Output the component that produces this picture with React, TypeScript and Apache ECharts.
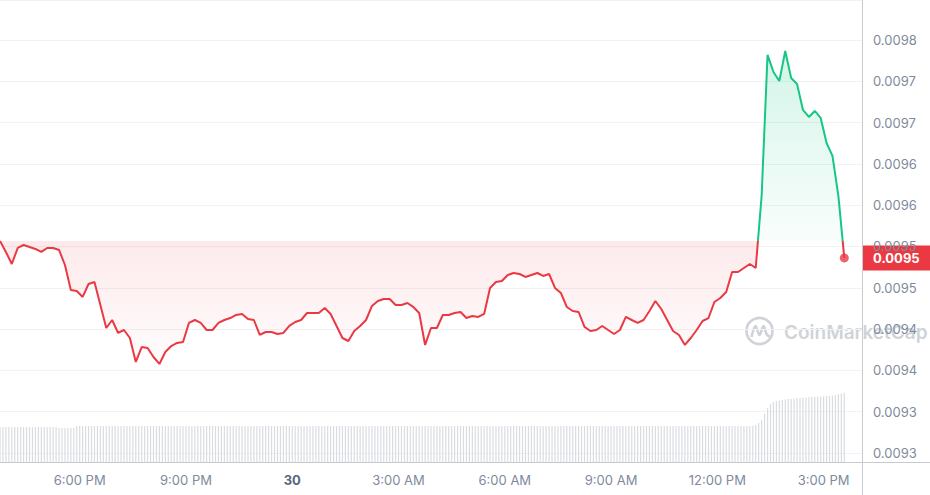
import React, { useEffect, useRef } from "react";
import * as echarts from "echarts";

// Time is expressed in minutes after midnight of the 29th.
const baseDayOfMonth = 29;
const priceStartMinute = 945;
const priceStepMinutes = 10;
const volumeStartMinute = 945;
const volumeStepMinutes = 5;
const axisMinMinute = 945;
const axisMaxMinute = 2405;
const timeTickMinutes = 180;

const priceAxisMin = 0.0092891;
const priceAxisMax = 0.0098484;
const priceTickStep = 0.00005;
const volumeAxisMax = 462;

const priceValues = [
  0.0095567, 0.0095434, 0.0095288, 0.0095482, 0.0095518, 0.0095494, 0.009547, 0.0095434, 0.0095482, 0.0095482,
  0.0095458, 0.0095276, 0.0094973, 0.0094961, 0.0094889, 0.0095046, 0.009507, 0.0094792, 0.0094513, 0.009461,
  0.0094453, 0.0094489, 0.0094392, 0.0094102, 0.0094283, 0.0094271, 0.0094162, 0.0094078, 0.0094223, 0.0094295,
  0.0094332, 0.0094344, 0.0094574, 0.009461, 0.0094574, 0.0094489, 0.0094489, 0.0094574, 0.009461, 0.0094634,
  0.0094671, 0.0094683, 0.0094622, 0.009461, 0.0094429, 0.0094465, 0.0094465, 0.0094441, 0.0094453, 0.0094538,
  0.0094586, 0.009461, 0.0094695, 0.0094695, 0.0094695, 0.0094756, 0.0094683, 0.0094538, 0.0094392, 0.0094356,
  0.0094477, 0.0094538, 0.009461, 0.009478, 0.009484, 0.0094865, 0.0094865, 0.0094792, 0.0094792, 0.0094816,
  0.0094768, 0.0094695, 0.0094308, 0.0094513, 0.0094513, 0.0094671, 0.0094671, 0.0094695, 0.0094707, 0.0094634,
  0.0094659, 0.0094647, 0.0094683, 0.0094998, 0.009507, 0.0095082, 0.0095155, 0.0095179, 0.0095167, 0.0095131,
  0.0095155, 0.0095179, 0.0095143, 0.0095167, 0.0094998, 0.0094937, 0.0094768, 0.0094719, 0.0094707, 0.0094526,
  0.0094477, 0.0094489, 0.0094538, 0.0094489, 0.0094441, 0.0094489, 0.0094647, 0.009461, 0.0094574, 0.009461,
  0.0094719, 0.009484, 0.0094743, 0.009461, 0.0094477, 0.0094429, 0.0094308, 0.0094392, 0.0094489, 0.0094598,
  0.0094634, 0.0094828, 0.0094877, 0.0094949, 0.0095191, 0.0095191, 0.009524, 0.0095288, 0.009524, 0.0096112,
  0.0097819, 0.0097613, 0.0097504, 0.0097867, 0.009754, 0.0097468, 0.0097153, 0.0097068, 0.0097141, 0.0097056,
  0.0096753, 0.0096596, 0.0096112, 0.0095361,
];

const volumeValues = [
  35, 35, 35, 35, 35, 35, 35, 35, 35, 35,
  35, 35, 35, 35, 35, 35, 35, 35, 35, 35,
  34, 34, 34, 34, 34, 34, 36, 36, 36, 36,
  36, 36, 36, 36, 36, 36, 36, 36, 36, 36,
  36, 36, 36, 36, 36, 36, 36, 36, 36, 36,
  36, 36, 36, 36, 36, 36, 36, 36, 36, 36,
  36, 36, 36, 36, 36, 36, 36, 36, 36, 36,
  36, 36, 36, 36, 36, 36, 36, 36, 36, 36,
  36, 36, 36, 36, 36, 36, 36, 36, 36, 36,
  36, 36, 36, 36, 36, 36, 36, 36, 36, 36,
  36, 36, 36, 36, 36, 36, 36, 36, 36, 36,
  36, 36, 36, 36, 36, 36, 36, 36, 36, 36,
  36, 36, 36, 36, 36, 36, 36, 36, 36, 36,
  36, 36, 36, 36, 36, 36, 36, 36, 36, 36,
  36, 36, 36, 36, 36, 36, 36, 36, 36, 36,
  36, 36, 36, 36, 36, 36, 36, 36, 36, 36,
  36, 36, 36, 36, 36, 36, 36, 36, 36, 36,
  36, 36, 36, 36, 36, 36, 36, 36, 36, 36,
  36, 36, 36, 36, 36, 36, 36, 36, 36, 36,
  36, 36, 36, 36, 36, 36, 36, 36, 36, 36,
  36, 36, 36, 36, 36, 36, 36, 36, 36, 36,
  36, 36, 36, 36, 36, 36, 36, 36, 36, 36,
  36, 36, 36, 36, 36, 36, 36, 36, 36, 36,
  36, 36, 36, 36, 36, 36, 36, 36, 36, 36,
  36, 36, 36, 36, 36, 36, 36, 36, 36, 36,
  36, 36, 36, 36, 36, 36, 37, 39, 42, 48,
  54, 58, 60, 61, 61.5, 62, 62.5, 63, 63, 63.5,
  64, 64, 64.5, 64.5, 65, 65, 65, 65.5, 65.5, 65.5,
  66, 66, 66.5, 67, 68, 68.5, 69,
];

const RED = "#ea3943";
const GREEN = "#16c784";
const AXIS_LINE = "#c7cbd1";
const LABEL = "#808a9d";
const WATERMARK = "#cfd3d8";

function timeLabel(v: number): string {
  const minutes = Math.round(v);
  const day = Math.floor(minutes / 1440);
  const m = minutes - day * 1440;
  if (m === 0) return "{d|" + (baseDayOfMonth + day) + "}";
  const h = Math.floor(m / 60);
  const mm = m % 60;
  const h12 = h % 12 === 0 ? 12 : h % 12;
  return h12 + ":" + String(mm).padStart(2, "0") + " " + (h >= 12 ? "PM" : "AM");
}

function priceLabel(v: number): string {
  return (Math.floor(v * 10000 + 1e-6) / 10000).toFixed(4);
}

export default function App() {
  const ref = useRef<HTMLDivElement>(null);

  useEffect(() => {
    const el = ref.current;
    if (!el) return;
    const chart = echarts.init(el, null, { renderer: "svg" });

    const gridTop = 0;
    const gridBottom = 33;
    const gridRight = 68;
    const plotHeight = el.clientHeight - gridTop - gridBottom;
    const axisX = el.clientWidth - gridRight + 0.5;
    const axisY = gridTop + plotHeight + 0.5;

    const basePrice = priceValues[0];
    const priceData = priceValues.map((v, i) => [priceStartMinute + i * priceStepMinutes, v]);
    const volumeData = volumeValues.map((v, i) => [volumeStartMinute + i * volumeStepMinutes, v]);
    const last = priceData[priceData.length - 1];
    const baseOffset = (priceAxisMax - basePrice) / (priceAxisMax - priceAxisMin);

    const areaColor = new echarts.graphic.LinearGradient(
      0,
      gridTop,
      0,
      gridTop + plotHeight,
      [
        { offset: 0, color: "rgba(22,199,132,0.32)" },
        { offset: baseOffset, color: "rgba(22,199,132,0.04)" },
        { offset: baseOffset, color: "rgba(234,57,67,0.15)" },
        { offset: Math.min(1, baseOffset + 0.27), color: "rgba(234,57,67,0.02)" },
        { offset: 1, color: "rgba(234,57,67,0)" },
      ],
      true
    );

    const staticGraphics: any[] = [
      {
        type: "line",
        silent: true,
        shape: { x1: axisX, y1: axisY, x2: el.clientWidth, y2: axisY },
        style: { stroke: AXIS_LINE, lineWidth: 1 },
      },
      {
        type: "line",
        silent: true,
        shape: { x1: axisX, y1: axisY, x2: axisX, y2: el.clientHeight },
        style: { stroke: AXIS_LINE, lineWidth: 1 },
      },
      {
        type: "group",
        silent: true,
        x: 745,
        y: 316,
        z: 0,
        children: [
          {
            type: "circle",
            shape: { cx: 14.5, cy: 15, r: 13 },
            style: { fill: "none", stroke: WATERMARK, lineWidth: 2.6 },
          },
          {
            type: "polyline",
            shape: {
              points: [
                [6.5, 21],
                [10.5, 10],
                [14.5, 19],
                [18.5, 10],
                [21.5, 18],
                [25, 21],
              ],
              smooth: 0.35,
            },
            style: { fill: "none", stroke: WATERMARK, lineWidth: 2.6 },
          },
          {
            type: "text",
            x: 39,
            y: 16,
            style: {
              text: "CoinMarketCap",
              fill: WATERMARK,
              font: "600 19px Inter, 'Noto Sans', sans-serif",
              verticalAlign: "middle",
            },
          },
        ],
      },
    ];

    chart.setOption({
      animation: false,
      textStyle: { fontFamily: "Inter, 'Noto Sans', sans-serif" },
      grid: {
        left: 0,
        right: gridRight,
        top: gridTop,
        bottom: gridBottom,
        containLabel: false,
        outerBoundsMode: "none",
      },
      xAxis: {
        type: "value",
        min: axisMinMinute,
        max: axisMaxMinute,
        minInterval: timeTickMinutes,
        maxInterval: timeTickMinutes,
        axisLine: { show: true, lineStyle: { color: AXIS_LINE, width: 1 } },
        axisTick: { show: false },
        splitLine: { show: false },
        axisLabel: {
          showMinLabel: false,
          showMaxLabel: false,
          margin: 11,
          color: LABEL,
          fontSize: 13,
          formatter: timeLabel,
          rich: { d: { fontWeight: "bold", color: "#58667e", fontSize: 13 } },
        },
      },
      yAxis: [
        {
          type: "value",
          position: "right",
          min: priceAxisMin,
          max: priceAxisMax,
          minInterval: priceTickStep,
          maxInterval: priceTickStep,
          axisLine: { show: true, lineStyle: { color: AXIS_LINE, width: 1 } },
          axisTick: { show: false },
          splitLine: { show: true, lineStyle: { color: "#f1f2f4", width: 1 } },
          axisLabel: {
            showMinLabel: false,
            showMaxLabel: false,
            margin: 11,
            color: LABEL,
            fontSize: 13,
            formatter: priceLabel,
          },
        },
        {
          type: "value",
          min: 0,
          max: volumeAxisMax,
          show: false,
          splitLine: { show: false },
        },
      ],
      visualMap: {
        type: "piecewise",
        show: false,
        seriesIndex: 1,
        dimension: 1,
        pieces: [
          { gte: 0, lt: basePrice, color: RED },
          { gte: basePrice, lte: 1, color: GREEN },
        ],
      },
      series: [
        {
          type: "bar",
          xAxisIndex: 0,
          yAxisIndex: 1,
          data: volumeData,
          barWidth: 1.2,
          itemStyle: { color: "#d9dce1" },
          silent: true,
          z: 1,
        },
        {
          type: "line",
          xAxisIndex: 0,
          yAxisIndex: 0,
          data: priceData,
          showSymbol: false,
          symbol: "none",
          lineStyle: { width: 2 },
          areaStyle: { origin: basePrice, color: areaColor },
          silent: true,
          z: 3,
          markLine: {
            silent: true,
            symbol: "none",
            animation: false,
            data: [
              {
                yAxis: basePrice,
                lineStyle: { type: [1, 3], color: "#8f959e", width: 1 },
                label: { show: false },
              },
            ],
          },
        },
        {
          type: "scatter",
          data: [last],
          symbolSize: 9,
          itemStyle: { color: RED },
          silent: true,
          z: 5,
        },
      ],
      graphic: staticGraphics,
    });

    // Current-price tag on the price axis, positioned through the axis scale.
    const lastPrice = last[1] as number;
    const tagY = chart.convertToPixel({ yAxisIndex: 0 }, lastPrice) as number;
    const tagHeight = 25;
    chart.setOption({
      graphic: [
        ...staticGraphics,
        {
          type: "group",
          silent: true,
          z: 10,
          x: axisX - 0.5,
          y: tagY - tagHeight / 2,
          children: [
            {
              type: "rect",
              shape: { x: 0, y: 0, width: el.clientWidth - (axisX - 0.5), height: tagHeight },
              style: { fill: RED },
            },
            {
              type: "text",
              x: 11,
              y: tagHeight / 2 + 0.5,
              style: {
                text: lastPrice.toFixed(4),
                fill: "#ffffff",
                font: "bold 13px Inter, 'Noto Sans', sans-serif",
                verticalAlign: "middle",
              },
            },
          ],
        },
      ],
    });

    return () => {
      chart.dispose();
    };
  }, []);

  return (
    <div
      ref={ref}
      style={{ position: "absolute", left: 0, top: 0, width: 930, height: 495, background: "#ffffff" }}
    />
  );
}
